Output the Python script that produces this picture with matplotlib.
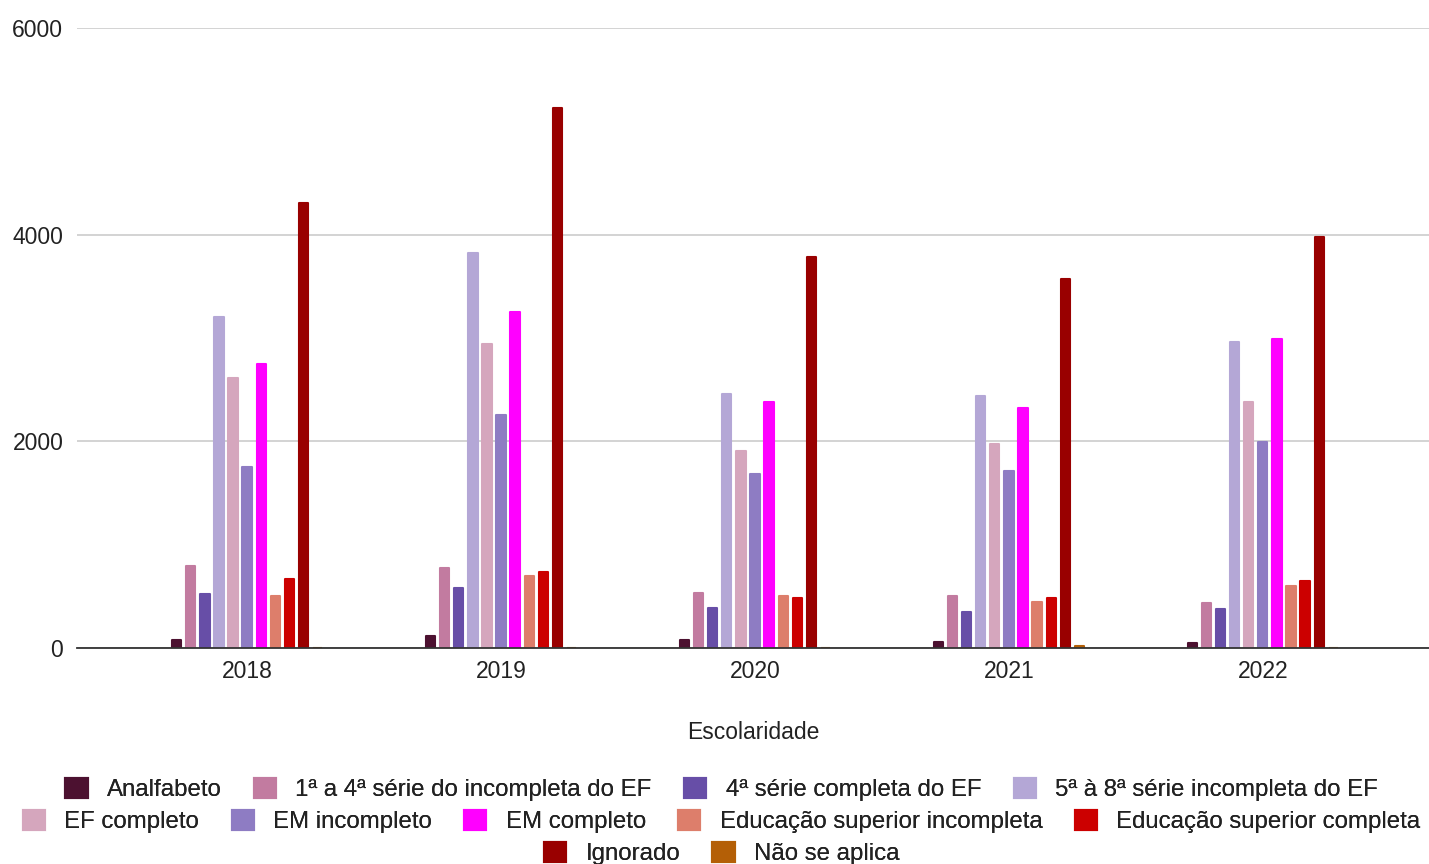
import matplotlib.pyplot as plt
import numpy as np

plt.rcParams['font.family'] = ['Liberation Sans', 'DejaVu Sans']

anos = ['2018', '2019', '2020', '2021', '2022']
categorias = [
    'Analfabeto',
    '1ª a 4ª série do incompleta do EF',
    '4ª série completa do EF',
    '5ª à 8ª série incompleta do EF',
    'EF completo',
    'EM incompleto',
    'EM completo',
    'Educação superior incompleta',
    'Educação superior completa',
    'Ignorado',
    'Não se aplica',
]
cores = ['#4c1130', '#c27ba0', '#674ea7', '#b4a7d6', '#d5a6bd', '#8e7cc3',
         '#ff00ff', '#dd7e6b', '#cc0000', '#990000', '#b45f06']

analfabeto = [80, 115, 80, 60, 45]
serie_1a4 = [795, 775, 530, 500, 435]
serie_4 = [525, 580, 385, 350, 375]
serie_5a8 = [3200, 3825, 2460, 2440, 2960]
ef_completo = [2615, 2945, 1910, 1975, 2380]
em_incompleto = [1750, 2255, 1685, 1715, 1995]
em_completo = [2750, 3255, 2380, 2325, 2990]
sup_incompleta = [505, 695, 505, 445, 600]
sup_completa = [665, 735, 485, 485, 650]
ignorado = [4310, 5230, 3785, 3570, 3980]
nao_se_aplica = [0, 0, 0, 20, 0]

series = [analfabeto, serie_1a4, serie_4, serie_5a8, ef_completo, em_incompleto,
          em_completo, sup_incompleta, sup_completa, ignorado, nao_se_aplica]

fig = plt.figure(figsize=(14.29, 8.64), dpi=100)
ax = fig.add_axes([0.054, 0.25, 0.946, 0.7176])

x = np.arange(len(anos))
passo = 0.0553
largura = 0.036
handles = []
for i, (vals, cor, nome) in enumerate(zip(series, cores, categorias)):
    b = ax.bar(x + (i - 5) * passo, vals, width=largura, color=cor,
               edgecolor=cor, linewidth=1.5, joinstyle='round', label=nome, zorder=3)
    handles.append(b)

ax.set_ylim(0, 6000)
ax.set_xlim(-0.669, 4.654)
ax.set_yticks([0, 2000, 4000, 6000])
ax.set_xticks(x)
ax.set_xticklabels(anos)
ax.grid(axis='y', color='#cccccc', linewidth=1.2, zorder=0)
ax.tick_params(length=0, labelsize=16.5, colors='#222222')
ax.tick_params(axis='x', pad=9)
ax.tick_params(axis='y', pad=10)
for s in ['top', 'right', 'left']:
    ax.spines[s].set_visible(False)
ax.spines['bottom'].set_color('#333333')
ax.spines['bottom'].set_linewidth(1.3)
ax.spines['bottom'].set_zorder(4)
ax.set_xlabel('Escolaridade', fontsize=16.5, color='#222222', labelpad=27)

linhas = [(0, 4, 0.086), (4, 9, 0.049), (9, 11, 0.012)]
for ini, fim, y in linhas:
    leg = fig.legend(handles[ini:fim], categorias[ini:fim], loc='center',
                     bbox_to_anchor=(0.505, y), ncol=fim - ini, frameon=False,
                     fontsize=17.3, handlelength=0.92, handleheight=0.92,
                     handletextpad=0.8, columnspacing=1.35, borderpad=0)
    for t in leg.get_texts():
        t.set_color('#222222')
    fig.add_artist(leg)

fig.savefig('out.png', dpi=100)
